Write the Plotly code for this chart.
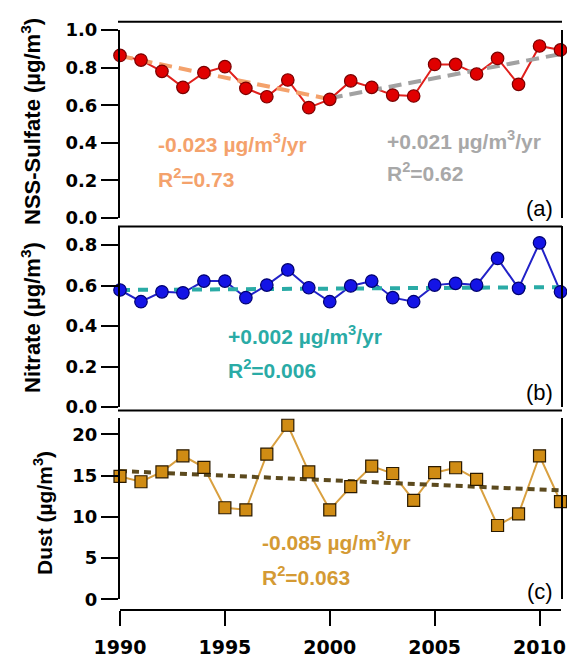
import plotly.graph_objects as go

# ---------------- data ----------------
years = list(range(1990, 2012))

sulfate = [0.865, 0.84, 0.78, 0.695, 0.773, 0.805, 0.69, 0.645, 0.734, 0.587, 0.631,
           0.729, 0.695, 0.654, 0.649, 0.817, 0.817, 0.766, 0.849, 0.711, 0.915, 0.894]
nitrate = [0.578, 0.52, 0.569, 0.564, 0.622, 0.622, 0.54, 0.602, 0.677, 0.589, 0.52,
           0.598, 0.622, 0.54, 0.52, 0.602, 0.611, 0.602, 0.734, 0.586, 0.811, 0.569]
dust = [14.9, 14.25, 15.45, 17.4, 16.0, 11.1, 10.85, 17.6, 21.1, 15.45, 10.85,
        13.65, 16.15, 15.25, 12.0, 15.35, 15.95, 14.55, 8.95, 10.35, 17.4, 11.85]

sulf_trend1_years = [1990, 2000]
sulf_trend1_vals = [0.862, 0.632]
sulf_trend2_years = [2000, 2011]
sulf_trend2_vals = [0.637, 0.872]
nit_trend_years = [1990, 2011]
nit_trend_vals = [0.578, 0.592]
dust_trend_years = [1990, 2011]
dust_trend_vals = [15.55, 13.2]

x_ticks = [1990, 1995, 2000, 2005, 2010]
sulf_ticks = [0.0, 0.2, 0.4, 0.6, 0.8, 1.0]
nit_ticks = [0.0, 0.2, 0.4, 0.6, 0.8]
dust_ticks = [0, 5, 10, 15, 20]

# ---------------- layout helpers ----------------
W, H = 567, 658
def px(x):
    return x / W
def py(y):
    return 1 - y / H

ANN_FONT = "Liberation Sans, Arial, sans-serif"
TICK_FONT = dict(family="DejaVu Sans, sans-serif", size=18, color="black", weight="bold")

fig = go.Figure()

# ---- Sulfate (panel a) ----
fig.add_trace(go.Scatter(x=years, y=sulfate, mode="lines", yaxis="y",
                         line=dict(color="#E0201C", width=2), cliponaxis=False, showlegend=False))
fig.add_trace(go.Scatter(x=sulf_trend1_years, y=sulf_trend1_vals, mode="lines", yaxis="y",
                         line=dict(color="#F4A26C", width=4, dash="13px,7px"), cliponaxis=False, showlegend=False))
fig.add_trace(go.Scatter(x=sulf_trend2_years, y=sulf_trend2_vals, mode="lines", yaxis="y",
                         line=dict(color="#A2A2A2", width=4, dash="13px,7px"), cliponaxis=False, showlegend=False))
fig.add_trace(go.Scatter(x=years, y=sulfate, mode="markers", yaxis="y",
                         marker=dict(symbol="circle", size=12.5, color="#E00000",
                                     line=dict(color="#7A0000", width=1.2)),
                         cliponaxis=False, showlegend=False))

# ---- Nitrate (panel b) ----
fig.add_trace(go.Scatter(x=years, y=nitrate, mode="lines", yaxis="y2",
                         line=dict(color="#2222C8", width=2), cliponaxis=False, showlegend=False))
fig.add_trace(go.Scatter(x=nit_trend_years, y=nit_trend_vals, mode="lines", yaxis="y2",
                         line=dict(color="#2AABA6", width=4, dash="10px,8px"), cliponaxis=False, showlegend=False))
fig.add_trace(go.Scatter(x=years, y=nitrate, mode="markers", yaxis="y2",
                         marker=dict(symbol="circle", size=12.5, color="#1414E6",
                                     line=dict(color="#000070", width=1.2)),
                         cliponaxis=False, showlegend=False))

# ---- Dust (panel c) ----
fig.add_trace(go.Scatter(x=years, y=dust, mode="lines", yaxis="y3",
                         line=dict(color="#D9A040", width=2), cliponaxis=False, showlegend=False))
fig.add_trace(go.Scatter(x=dust_trend_years, y=dust_trend_vals, mode="lines", yaxis="y3",
                         line=dict(color="#5C4A1E", width=4, dash="7px,5px"), cliponaxis=False, showlegend=False))
fig.add_trace(go.Scatter(x=years, y=dust, mode="markers", yaxis="y3",
                         marker=dict(symbol="square", size=12, color="#D08C14",
                                     line=dict(color="#2A1A00", width=1.2)),
                         cliponaxis=False, showlegend=False))

yax_common = dict(showline=True, linecolor="black", linewidth=2, mirror=True,
                  ticks="outside", ticklen=17, tickwidth=2, tickcolor="black",
                  showgrid=False, zeroline=False, tickfont=TICK_FONT,
                  anchor="x", automargin=False)

fig.update_layout(
    width=W, height=H,
    margin=dict(l=0, r=0, t=0, b=0),
    paper_bgcolor="white", plot_bgcolor="white",
    showlegend=False,
    xaxis=dict(domain=[px(120), px(560.5)], range=[1990, 2011],
               anchor="free", position=py(610),
               showline=True, linecolor="black", linewidth=2,
               ticks="outside", ticklen=15, tickwidth=2, tickcolor="black",
               tickvals=x_ticks, ticktext=[str(v) for v in x_ticks],
               tickfont=dict(family="DejaVu Sans, sans-serif", size=19, color="black", weight="bold"),
               ticklabelstandoff=5,
               showgrid=False, zeroline=False, automargin=False),
    yaxis=dict(domain=[py(218), py(30)], range=[0, 1.0], tickvals=sulf_ticks,
               tickformat=".1f", **yax_common),
    yaxis2=dict(domain=[py(407), py(226)], range=[0, 0.894], tickvals=nit_ticks,
                tickformat=".1f", **yax_common),
    yaxis3=dict(domain=[py(599.3), py(418)], range=[0, 21.98], tickvals=dust_ticks,
                **yax_common),
)

# top frame lines of each panel
for yline in [21.7, 226.5, 410.5]:
    fig.add_shape(type="line", xref="paper", yref="paper",
                  x0=px(118), x1=px(562), y0=py(yline), y1=py(yline),
                  line=dict(color="black", width=2))

def ann(text, x, y, color, size=21, bold=True, xanchor="left", angle=0, family=ANN_FONT):
    fig.add_annotation(text=text, x=px(x), y=py(y), xref="paper", yref="paper",
                       xanchor=xanchor, yanchor="middle", showarrow=False, textangle=angle,
                       font=dict(family=family, size=size, color=color,
                                 weight="bold" if bold else "normal"))

# trend annotations
ann("-0.023 µg/m<sup>3</sup>/yr", 156, 143, "#F4A26C")
ann("R<sup>2</sup>=0.73", 156, 178, "#F4A26C")
ann("+0.021 µg/m<sup>3</sup>/yr", 385, 140, "#A8A8A8")
ann("R<sup>2</sup>=0.62", 385, 172, "#A8A8A8")
ann("(a)", 555, 209, "black", size=22, bold=False, xanchor="right")

ann("+0.002 µg/m<sup>3</sup>/yr", 226, 335, "#2AABA6")
ann("R<sup>2</sup>=0.006", 226, 369, "#2AABA6")
ann("(b)", 555, 392, "black", size=22, bold=False, xanchor="right")

ann("-0.085 µg/m<sup>3</sup>/yr", 260, 541, "#D49A34")
ann("R<sup>2</sup>=0.063", 260, 576, "#D49A34")
ann("(c)", 555, 591, "black", size=22, bold=False, xanchor="right")

# y-axis titles
ann("NSS-Sulfate (µg/m<sup>3</sup>)", 31, 122, "black", size=22, xanchor="center", angle=-90)
ann("Nitrate (µg/m<sup>3</sup>)", 31, 318, "black", size=22, xanchor="center", angle=-90)
ann("Dust (µg/m<sup>3</sup>)", 43, 513, "black", size=21, xanchor="center", angle=-90)

fig.write_html("out.html")
